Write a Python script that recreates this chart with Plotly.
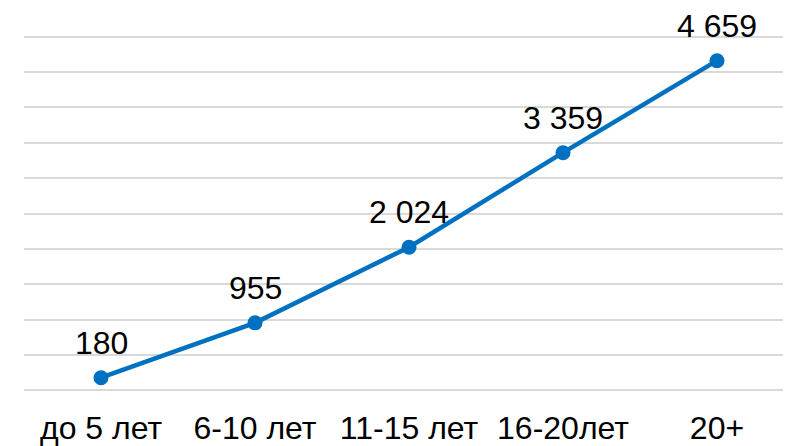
import plotly.graph_objects as go

categories = ["до 5 лет", "6-10 лет", "11-15 лет", "16-20лет", "20+"]
values = [180, 955, 2024, 3359, 4659]
y_ticks = [0, 500, 1000, 1500, 2000, 2500, 3000, 3500, 4000, 4500, 5000]

LINE_COLOR = "#0070C0"
FONT = "Liberation Sans, Arial, sans-serif"

fig = go.Figure()
fig.add_trace(go.Scatter(
    x=categories, y=values, mode="lines+markers",
    line=dict(color=LINE_COLOR, width=4.5),
    marker=dict(color=LINE_COLOR, size=15),
    hoverinfo="skip", cliponaxis=False,
))

for c, v in zip(categories, values):
    fig.add_annotation(
        x=c, y=v, text=f"{v:,}".replace(",", " "), showarrow=False,
        yanchor="middle", xanchor="center", yshift=35,
        font=dict(family=FONT, size=32, color="#000000"),
    )

# page body has an 8px margin; margins compensate for it
fig.update_layout(
    width=791, height=446,
    margin=dict(l=16, r=5, t=25, b=60, pad=0, autoexpand=False),
    paper_bgcolor="white", plot_bgcolor="white",
    showlegend=False,
    font=dict(family=FONT, size=32, color="#000000"),
)
fig.update_xaxes(
    type="category", range=[-0.5, 4.5], showgrid=False, zeroline=False,
    showline=False, ticks="", ticklabelstandoff=12, automargin=False,
    tickfont=dict(family=FONT, size=32, color="#000000"),
)
fig.update_yaxes(
    range=[-50, 5050], tickvals=y_ticks, showticklabels=False,
    showgrid=True, gridcolor="#d9d9d9", gridwidth=1.5, automargin=False,
    zeroline=False, showline=False, ticks="",
)

fig.write_html("out.html")
